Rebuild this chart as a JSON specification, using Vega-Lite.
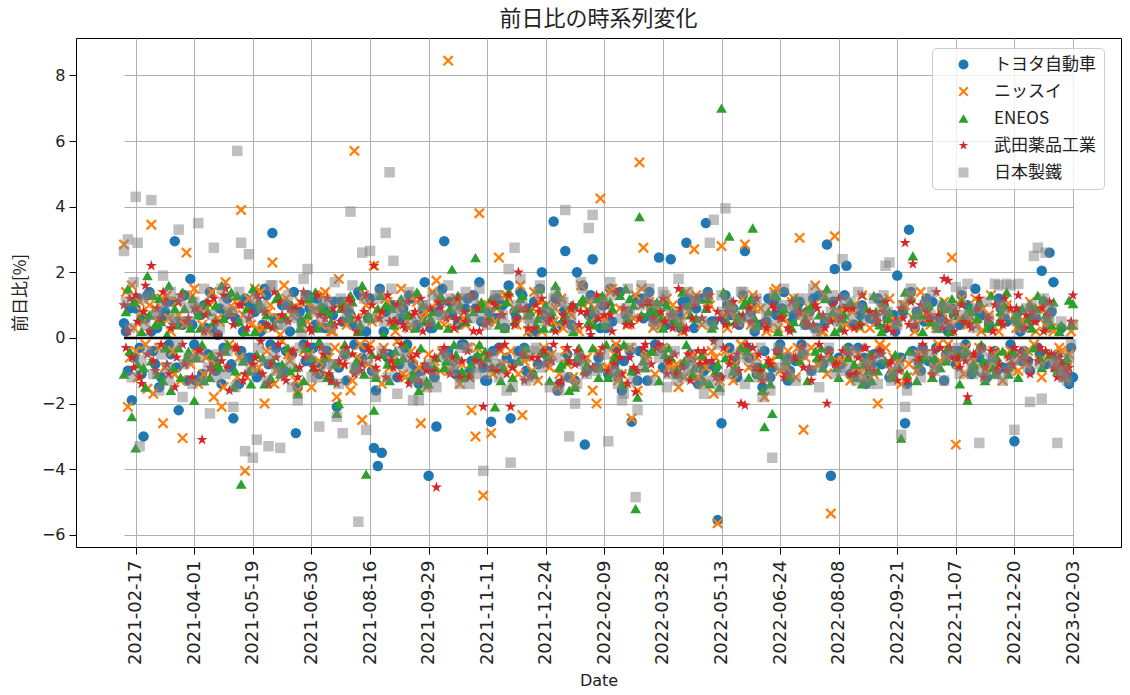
{
  "$schema": "https://vega.github.io/schema/vega-lite/v6.json",
  "description": "前日比の時系列変化 (5銘柄の日次変化率の散布図)",
  "width": 1045,
  "height": 509,
  "autosize": {"type": "none"},
  "padding": {"left": 76, "top": 38, "right": 9, "bottom": 148},
  "background": "white",
  "title": {
    "text": "前日比の時系列変化",
    "font": "Noto Sans CJK JP",
    "fontSize": 22,
    "fontWeight": "normal",
    "color": "#222",
    "anchor": "middle",
    "offset": 7
  },
  "config": {
    "font": "Noto Sans CJK JP",
    "view": {"stroke": "#000", "strokeWidth": 1},
    "axis": {
      "domain": false,
      "grid": true,
      "gridColor": "#b0b0b0",
      "gridWidth": 1,
      "tickColor": "#000",
      "tickSize": 7,
      "labelFont": "DejaVu Sans",
      "labelFontSize": 16,
      "labelColor": "#222",
      "labelPadding": 4,
      "titleFont": "Noto Sans CJK JP",
      "titleFontSize": 17,
      "titleFontWeight": "normal",
      "titleColor": "#222"
    }
  },
  "data": {
    "values": [
      {"date":"2021-02-08","toyota":0.45,"nissui":2.85,"eneos":-1.1,"takeda":1.0,"nsteel":2.65},
      {"date":"2021-02-09","toyota":0.2,"nissui":1.4,"eneos":0.8,"takeda":-0.3,"nsteel":1.1},
      {"date":"2021-02-10","toyota":-1.0,"nissui":-2.1,"eneos":1.5,"takeda":0.2,"nsteel":3.0},
      {"date":"2021-02-12","toyota":0.9,"nissui":-0.6,"eneos":-0.4,"takeda":1.2,"nsteel":0.3},
      {"date":"2021-02-15","toyota":-1.9,"nissui":1.6,"eneos":-2.4,"takeda":-0.6,"nsteel":-1.2},
      {"date":"2021-02-16","toyota":-0.6,"nissui":0.3,"eneos":1.1,"takeda":-0.9,"nsteel":1.7},
      {"date":"2021-02-17","toyota":0.9,"nissui":-0.4,"eneos":-3.35,"takeda":1.3,"nsteel":4.3},
      {"date":"2021-02-18","toyota":1.2,"nissui":-1.2,"eneos":-0.8,"takeda":0.5,"nsteel":2.9},
      {"date":"2021-02-19","toyota":-0.3,"nissui":1.1,"eneos":0.6,"takeda":-1.2,"nsteel":-3.3},
      {"date":"2021-02-22","toyota":-1.1,"nissui":0.8,"eneos":0.2,"takeda":-1.4,"nsteel":-0.7},
      {"date":"2021-02-24","toyota":-3.0,"nissui":0.5,"eneos":-0.9,"takeda":0.8,"nsteel":1.2},
      {"date":"2021-02-25","toyota":0.6,"nissui":-0.2,"eneos":-1.5,"takeda":1.6,"nsteel":0.4},
      {"date":"2021-02-26","toyota":1.3,"nissui":-1.55,"eneos":1.9,"takeda":-0.5,"nsteel":-0.4},
      {"date":"2021-03-01","toyota":1.4,"nissui":1.0,"eneos":0.7,"takeda":0.2,"nsteel":1.3},
      {"date":"2021-03-02","toyota":0.2,"nissui":3.45,"eneos":-0.7,"takeda":2.2,"nsteel":4.2},
      {"date":"2021-03-03","toyota":-0.4,"nissui":-1.7,"eneos":1.3,"takeda":-0.7,"nsteel":-1.1},
      {"date":"2021-03-04","toyota":-0.8,"nissui":0.9,"eneos":0.4,"takeda":-1.0,"nsteel":0.7},
      {"date":"2021-03-05","toyota":0.3,"nissui":0.5,"eneos":-1.1,"takeda":0.9,"nsteel":0.8},
      {"date":"2021-03-08","toyota":-1.5,"nissui":-0.3,"eneos":1.2,"takeda":0.6,"nsteel":-1.6},
      {"date":"2021-03-09","toyota":-1.2,"nissui":1.2,"eneos":0.5,"takeda":-0.2,"nsteel":-0.5},
      {"date":"2021-03-10","toyota":0.6,"nissui":-2.6,"eneos":-1.3,"takeda":1.4,"nsteel":1.9},
      {"date":"2021-03-11","toyota":0.8,"nissui":-0.9,"eneos":-0.3,"takeda":1.1,"nsteel":1.0},
      {"date":"2021-03-12","toyota":1.1,"nissui":1.3,"eneos":0.1,"takeda":-0.8,"nsteel":-0.9},
      {"date":"2021-03-15","toyota":-0.2,"nissui":0.6,"eneos":1.6,"takeda":-1.1,"nsteel":-1.3},
      {"date":"2021-03-16","toyota":-0.5,"nissui":0.2,"eneos":-1.6,"takeda":0.3,"nsteel":1.4},
      {"date":"2021-03-17","toyota":1.1,"nissui":-0.4,"eneos":-0.9,"takeda":0.4,"nsteel":0.6},
      {"date":"2021-03-18","toyota":2.95,"nissui":-1.1,"eneos":0.9,"takeda":-1.5,"nsteel":0.5},
      {"date":"2021-03-19","toyota":-0.9,"nissui":1.1,"eneos":0.4,"takeda":-0.6,"nsteel":-0.2},
      {"date":"2021-03-23","toyota":-2.2,"nissui":0.7,"eneos":-0.3,"takeda":1.1,"nsteel":3.3},
      {"date":"2021-03-24","toyota":0.5,"nissui":-1.3,"eneos":-1.2,"takeda":1.3,"nsteel":1.2},
      {"date":"2021-03-25","toyota":0.4,"nissui":-3.05,"eneos":1.4,"takeda":-0.2,"nsteel":-1.8},
      {"date":"2021-03-26","toyota":1.3,"nissui":0.4,"eneos":0.9,"takeda":-0.8,"nsteel":-0.8},
      {"date":"2021-03-27","toyota":-1.3,"nissui":2.6,"eneos":-0.6,"takeda":0.5,"nsteel":0.9},
      {"date":"2021-03-29","toyota":-0.7,"nissui":-0.7,"eneos":-0.4,"takeda":0.6,"nsteel":0.5},
      {"date":"2021-03-30","toyota":1.8,"nissui":-0.8,"eneos":0.3,"takeda":-1.3,"nsteel":-0.6},
      {"date":"2021-03-31","toyota":0.4,"nissui":1.3,"eneos":1.2,"takeda":-1.2,"nsteel":-1.4},
      {"date":"2021-04-01","toyota":-0.2,"nissui":1.5,"eneos":-1.9,"takeda":0.9,"nsteel":1.1},
      {"date":"2021-04-02","toyota":-1.3,"nissui":-0.5,"eneos":-0.6,"takeda":0.9,"nsteel":0.9},
      {"date":"2021-04-05","toyota":0.8,"nissui":-1.4,"eneos":0.7,"takeda":-0.4,"nsteel":3.5},
      {"date":"2021-04-06","toyota":0.7,"nissui":0.9,"eneos":0.3,"takeda":-0.4,"nsteel":-0.6},
      {"date":"2021-04-07","toyota":-1.1,"nissui":0.4,"eneos":-0.2,"takeda":-3.1,"nsteel":-1.3},
      {"date":"2021-04-08","toyota":1.0,"nissui":-1.1,"eneos":-1.3,"takeda":0.2,"nsteel":1.5},
      {"date":"2021-04-09","toyota":0.3,"nissui":-0.6,"eneos":1.1,"takeda":0.7,"nsteel":0.2},
      {"date":"2021-04-12","toyota":-0.5,"nissui":0.2,"eneos":0.8,"takeda":1.1,"nsteel":-0.9},
      {"date":"2021-04-13","toyota":1.4,"nissui":1.0,"eneos":-1.2,"takeda":-0.9,"nsteel":-2.3},
      {"date":"2021-04-14","toyota":0.3,"nissui":1.4,"eneos":-0.5,"takeda":-1.0,"nsteel":0.7},
      {"date":"2021-04-15","toyota":-0.7,"nissui":-1.8,"eneos":0.5,"takeda":1.2,"nsteel":2.75},
      {"date":"2021-04-16","toyota":-1.0,"nissui":-0.8,"eneos":1.0,"takeda":0.5,"nsteel":-1.2},
      {"date":"2021-04-19","toyota":0.1,"nissui":0.6,"eneos":-0.8,"takeda":0.1,"nsteel":-0.5},
      {"date":"2021-04-20","toyota":0.9,"nissui":0.5,"eneos":-0.9,"takeda":-0.5,"nsteel":0.3},
      {"date":"2021-04-21","toyota":-1.4,"nissui":-2.1,"eneos":1.6,"takeda":-0.7,"nsteel":1.5},
      {"date":"2021-04-22","toyota":-0.3,"nissui":-1.5,"eneos":0.6,"takeda":1.3,"nsteel":1.1},
      {"date":"2021-04-23","toyota":0.7,"nissui":1.7,"eneos":-0.4,"takeda":1.5,"nsteel":-1.1},
      {"date":"2021-04-26","toyota":1.2,"nissui":0.8,"eneos":-0.2,"takeda":-0.9,"nsteel":-0.4},
      {"date":"2021-04-27","toyota":-0.9,"nissui":-0.2,"eneos":0.8,"takeda":-1.6,"nsteel":0.8},
      {"date":"2021-04-28","toyota":-0.8,"nissui":-0.3,"eneos":1.4,"takeda":0.7,"nsteel":0.8},
      {"date":"2021-04-30","toyota":-2.45,"nissui":0.9,"eneos":-1.5,"takeda":0.4,"nsteel":-2.1},
      {"date":"2021-05-03","toyota":0.6,"nissui":1.1,"eneos":-1.0,"takeda":-0.3,"nsteel":-1.5},
      {"date":"2021-05-06","toyota":0.5,"nissui":-1.2,"eneos":1.3,"takeda":-0.3,"nsteel":5.7},
      {"date":"2021-05-07","toyota":-1.4,"nissui":-0.6,"eneos":0.5,"takeda":1.0,"nsteel":1.4},
      {"date":"2021-05-10","toyota":-0.4,"nissui":3.9,"eneos":-4.45,"takeda":1.0,"nsteel":2.9},
      {"date":"2021-05-11","toyota":0.2,"nissui":0.7,"eneos":-0.7,"takeda":-1.3,"nsteel":-0.7},
      {"date":"2021-05-12","toyota":1.2,"nissui":-4.05,"eneos":0.2,"takeda":-1.1,"nsteel":-3.45},
      {"date":"2021-05-14","toyota":1.1,"nissui":-1.2,"eneos":0.9,"takeda":0.3,"nsteel":0.6},
      {"date":"2021-05-17","toyota":-0.6,"nissui":1.2,"eneos":-1.0,"takeda":0.6,"nsteel":2.55},
      {"date":"2021-05-18","toyota":-0.6,"nissui":0.4,"eneos":-1.4,"takeda":0.8,"nsteel":-1.0},
      {"date":"2021-05-19","toyota":0.9,"nissui":-0.9,"eneos":1.5,"takeda":-0.8,"nsteel":-3.65},
      {"date":"2021-05-20","toyota":0.8,"nissui":1.5,"eneos":0.2,"takeda":-0.6,"nsteel":1.2},
      {"date":"2021-05-21","toyota":-1.2,"nissui":0.3,"eneos":-0.5,"takeda":1.3,"nsteel":-3.1},
      {"date":"2021-05-24","toyota":-1.1,"nissui":-0.9,"eneos":1.1,"takeda":1.2,"nsteel":-0.3},
      {"date":"2021-05-25","toyota":0.2,"nissui":1.4,"eneos":0.9,"takeda":-0.1,"nsteel":1.0},
      {"date":"2021-05-26","toyota":0.4,"nissui":0.3,"eneos":-0.6,"takeda":-1.1,"nsteel":0.9},
      {"date":"2021-05-27","toyota":1.5,"nissui":-2.0,"eneos":-1.4,"takeda":0.8,"nsteel":-0.7},
      {"date":"2021-05-28","toyota":1.3,"nissui":-0.4,"eneos":0.7,"takeda":0.4,"nsteel":-1.3},
      {"date":"2021-05-31","toyota":-0.8,"nissui":0.8,"eneos":0.4,"takeda":-1.4,"nsteel":-3.3},
      {"date":"2021-06-01","toyota":-0.2,"nissui":1.0,"eneos":-1.2,"takeda":-0.8,"nsteel":1.6},
      {"date":"2021-06-02","toyota":3.2,"nissui":2.3,"eneos":-0.7,"takeda":0.3,"nsteel":1.6},
      {"date":"2021-06-03","toyota":0.6,"nissui":-1.4,"eneos":0.4,"takeda":1.4,"nsteel":-0.5},
      {"date":"2021-06-04","toyota":-0.3,"nissui":-1.0,"eneos":1.2,"takeda":-0.6,"nsteel":-1.0},
      {"date":"2021-06-07","toyota":-0.9,"nissui":0.6,"eneos":1.3,"takeda":-0.2,"nsteel":0.4},
      {"date":"2021-06-08","toyota":0.6,"nissui":0.1,"eneos":-1.1,"takeda":1.1,"nsteel":-3.35},
      {"date":"2021-06-09","toyota":1.0,"nissui":-0.1,"eneos":-0.8,"takeda":0.7,"nsteel":-1.1},
      {"date":"2021-06-10","toyota":-1.0,"nissui":1.6,"eneos":0.6,"takeda":-1.2,"nsteel":0.4},
      {"date":"2021-06-11","toyota":-0.4,"nissui":1.2,"eneos":0.6,"takeda":-1.3,"nsteel":1.0},
      {"date":"2021-06-14","toyota":1.0,"nissui":-0.5,"eneos":-0.3,"takeda":0.5,"nsteel":1.3},
      {"date":"2021-06-15","toyota":0.2,"nissui":-0.7,"eneos":-1.0,"takeda":0.9,"nsteel":-0.8},
      {"date":"2021-06-16","toyota":-0.5,"nissui":0.7,"eneos":1.0,"takeda":-0.4,"nsteel":-1.5},
      {"date":"2021-06-17","toyota":1.4,"nissui":0.9,"eneos":0.9,"takeda":-0.4,"nsteel":0.7},
      {"date":"2021-06-18","toyota":-2.9,"nissui":-1.3,"eneos":-0.9,"takeda":0.9,"nsteel":0.6},
      {"date":"2021-06-21","toyota":-1.5,"nissui":-1.6,"eneos":-1.7,"takeda":-1.2,"nsteel":-1.9},
      {"date":"2021-06-22","toyota":0.8,"nissui":1.1,"eneos":0.3,"takeda":-0.9,"nsteel":-0.3},
      {"date":"2021-06-23","toyota":0.5,"nissui":0.3,"eneos":0.5,"takeda":1.1,"nsteel":0.2},
      {"date":"2021-06-24","toyota":-0.2,"nissui":-0.4,"eneos":-1.3,"takeda":1.4,"nsteel":1.8},
      {"date":"2021-06-25","toyota":-0.7,"nissui":1.1,"eneos":-0.3,"takeda":-0.6,"nsteel":1.3},
      {"date":"2021-06-28","toyota":1.3,"nissui":0.5,"eneos":0.7,"takeda":-0.2,"nsteel":2.1},
      {"date":"2021-06-29","toyota":0.9,"nissui":-0.5,"eneos":1.2,"takeda":0.3,"nsteel":-0.6},
      {"date":"2021-06-30","toyota":-0.7,"nissui":-1.5,"eneos":-0.6,"takeda":0.2,"nsteel":-1.2},
      {"date":"2021-07-01","toyota":-0.3,"nissui":0.8,"eneos":-0.9,"takeda":-0.9,"nsteel":0.8},
      {"date":"2021-07-02","toyota":0.4,"nissui":0.9,"eneos":1.4,"takeda":-1.0,"nsteel":0.9},
      {"date":"2021-07-05","toyota":1.2,"nissui":-1.0,"eneos":0.3,"takeda":1.3,"nsteel":-1.2},
      {"date":"2021-07-06","toyota":-1.1,"nissui":-0.7,"eneos":-0.1,"takeda":0.7,"nsteel":-2.7},
      {"date":"2021-07-07","toyota":-0.8,"nissui":0.4,"eneos":1.0,"takeda":-0.3,"nsteel":0.5},
      {"date":"2021-07-08","toyota":0.9,"nissui":1.3,"eneos":0.8,"takeda":-0.5,"nsteel":1.1},
      {"date":"2021-07-09","toyota":0.3,"nissui":1.4,"eneos":-0.6,"takeda":0.6,"nsteel":-0.3},
      {"date":"2021-07-12","toyota":-0.4,"nissui":-1.1,"eneos":-1.2,"takeda":1.2,"nsteel":-0.8},
      {"date":"2021-07-13","toyota":-1.2,"nissui":-0.6,"eneos":0.8,"takeda":-1.1,"nsteel":1.1},
      {"date":"2021-07-14","toyota":0.3,"nissui":0.2,"eneos":0.5,"takeda":-1.3,"nsteel":0.3},
      {"date":"2021-07-15","toyota":0.7,"nissui":0.2,"eneos":-1.3,"takeda":0.9,"nsteel":-0.8},
      {"date":"2021-07-16","toyota":1.1,"nissui":-0.3,"eneos":-0.8,"takeda":0.4,"nsteel":1.7},
      {"date":"2021-07-19","toyota":-2.1,"nissui":-1.8,"eneos":-2.3,"takeda":-1.4,"nsteel":-2.4},
      {"date":"2021-07-20","toyota":-0.9,"nissui":1.8,"eneos":-2.0,"takeda":-0.7,"nsteel":-1.4},
      {"date":"2021-07-21","toyota":1.1,"nissui":0.9,"eneos":0.9,"takeda":0.5,"nsteel":1.2},
      {"date":"2021-07-26","toyota":0.5,"nissui":-0.8,"eneos":1.1,"takeda":0.9,"nsteel":-2.9},
      {"date":"2021-07-27","toyota":-0.5,"nissui":-0.4,"eneos":-0.2,"takeda":-0.8,"nsteel":-0.5},
      {"date":"2021-07-28","toyota":-1.3,"nissui":0.4,"eneos":-0.4,"takeda":-0.3,"nsteel":0.6},
      {"date":"2021-07-29","toyota":0.8,"nissui":1.0,"eneos":0.6,"takeda":1.2,"nsteel":0.9},
      {"date":"2021-07-30","toyota":0.7,"nissui":-1.6,"eneos":1.3,"takeda":1.1,"nsteel":3.85},
      {"date":"2021-08-02","toyota":0.4,"nissui":-1.3,"eneos":1.1,"takeda":-0.5,"nsteel":1.6},
      {"date":"2021-08-03","toyota":-0.2,"nissui":5.7,"eneos":-0.9,"takeda":-1.1,"nsteel":-0.9},
      {"date":"2021-08-04","toyota":-0.9,"nissui":0.6,"eneos":-0.7,"takeda":0.2,"nsteel":-1.0},
      {"date":"2021-08-05","toyota":1.4,"nissui":-0.6,"eneos":0.2,"takeda":0.6,"nsteel":-5.6},
      {"date":"2021-08-06","toyota":1.3,"nissui":-0.2,"eneos":0.4,"takeda":-1.0,"nsteel":0.4},
      {"date":"2021-08-10","toyota":-0.6,"nissui":-2.5,"eneos":1.6,"takeda":-0.8,"nsteel":2.6},
      {"date":"2021-08-11","toyota":-0.3,"nissui":1.3,"eneos":-1.1,"takeda":0.8,"nsteel":1.2},
      {"date":"2021-08-12","toyota":0.2,"nissui":1.0,"eneos":-4.15,"takeda":1.3,"nsteel":-2.8},
      {"date":"2021-08-13","toyota":0.6,"nissui":-0.8,"eneos":0.7,"takeda":-0.3,"nsteel":-0.7},
      {"date":"2021-08-16","toyota":1.2,"nissui":-0.2,"eneos":0.6,"takeda":-0.4,"nsteel":2.65},
      {"date":"2021-08-17","toyota":-1.0,"nissui":0.5,"eneos":-0.5,"takeda":1.0,"nsteel":0.6},
      {"date":"2021-08-18","toyota":-3.35,"nissui":2.2,"eneos":-2.2,"takeda":2.2,"nsteel":-1.1},
      {"date":"2021-08-19","toyota":-1.6,"nissui":-1.1,"eneos":-1.2,"takeda":-0.9,"nsteel":-1.8},
      {"date":"2021-08-20","toyota":-3.9,"nissui":0.6,"eneos":0.9,"takeda":-0.6,"nsteel":1.2},
      {"date":"2021-08-23","toyota":1.5,"nissui":0.8,"eneos":1.3,"takeda":0.6,"nsteel":1.4},
      {"date":"2021-08-24","toyota":-3.5,"nissui":-1.4,"eneos":-0.5,"takeda":0.8,"nsteel":-0.4},
      {"date":"2021-08-25","toyota":0.2,"nissui":-0.3,"eneos":0.1,"takeda":-0.4,"nsteel":0.5},
      {"date":"2021-08-26","toyota":0.8,"nissui":1.2,"eneos":1.0,"takeda":-1.2,"nsteel":3.2},
      {"date":"2021-08-27","toyota":-0.6,"nissui":1.1,"eneos":-0.8,"takeda":1.3,"nsteel":-1.2},
      {"date":"2021-08-30","toyota":-0.5,"nissui":-0.9,"eneos":-1.3,"takeda":0.5,"nsteel":5.05},
      {"date":"2021-08-31","toyota":1.0,"nissui":-0.7,"eneos":0.9,"takeda":-0.7,"nsteel":1.5},
      {"date":"2021-09-01","toyota":1.0,"nissui":0.5,"eneos":0.4,"takeda":-0.9,"nsteel":2.35},
      {"date":"2021-09-02","toyota":0.5,"nissui":0.2,"eneos":-0.4,"takeda":0.5,"nsteel":0.8},
      {"date":"2021-09-03","toyota":-1.2,"nissui":-0.1,"eneos":-0.7,"takeda":1.0,"nsteel":-1.7},
      {"date":"2021-09-06","toyota":-0.8,"nissui":1.0,"eneos":1.1,"takeda":-1.2,"nsteel":-0.4},
      {"date":"2021-09-07","toyota":0.6,"nissui":1.5,"eneos":1.2,"takeda":-0.2,"nsteel":0.8},
      {"date":"2021-09-08","toyota":0.9,"nissui":-1.1,"eneos":-0.6,"takeda":0.4,"nsteel":1.1},
      {"date":"2021-09-09","toyota":-0.3,"nissui":-1.2,"eneos":-0.2,"takeda":0.3,"nsteel":-0.6},
      {"date":"2021-09-10","toyota":-0.2,"nissui":0.5,"eneos":0.7,"takeda":1.1,"nsteel":-0.9},
      {"date":"2021-09-13","toyota":1.3,"nissui":0.3,"eneos":0.7,"takeda":-1.4,"nsteel":1.4},
      {"date":"2021-09-14","toyota":1.2,"nissui":-0.4,"eneos":-1.2,"takeda":-0.6,"nsteel":0.4},
      {"date":"2021-09-15","toyota":-0.8,"nissui":-0.6,"eneos":-1.1,"takeda":0.7,"nsteel":-1.9},
      {"date":"2021-09-16","toyota":-1.1,"nissui":1.3,"eneos":0.3,"takeda":0.8,"nsteel":-1.3},
      {"date":"2021-09-17","toyota":0.4,"nissui":1.1,"eneos":1.4,"takeda":-0.5,"nsteel":0.5},
      {"date":"2021-09-21","toyota":-1.4,"nissui":-0.9,"eneos":-1.6,"takeda":-1.3,"nsteel":-1.9},
      {"date":"2021-09-22","toyota":-1.0,"nissui":-2.6,"eneos":-0.3,"takeda":1.2,"nsteel":-1.2},
      {"date":"2021-09-24","toyota":0.7,"nissui":0.6,"eneos":1.0,"takeda":0.2,"nsteel":1.0},
      {"date":"2021-09-27","toyota":1.7,"nissui":0.8,"eneos":0.5,"takeda":-0.8,"nsteel":1.0},
      {"date":"2021-09-28","toyota":-0.9,"nissui":-1.5,"eneos":-1.3,"takeda":-1.0,"nsteel":-1.5},
      {"date":"2021-09-29","toyota":-4.2,"nissui":-0.5,"eneos":-1.4,"takeda":0.4,"nsteel":-0.8},
      {"date":"2021-09-30","toyota":0.3,"nissui":0.9,"eneos":0.6,"takeda":0.9,"nsteel":0.5},
      {"date":"2021-10-01","toyota":0.3,"nissui":1.4,"eneos":0.8,"takeda":-1.0,"nsteel":1.3},
      {"date":"2021-10-04","toyota":-1.2,"nissui":-0.7,"eneos":-0.9,"takeda":-0.6,"nsteel":-1.2},
      {"date":"2021-10-05","toyota":-2.7,"nissui":1.75,"eneos":-0.6,"takeda":-4.55,"nsteel":-1.5},
      {"date":"2021-10-06","toyota":0.8,"nissui":1.2,"eneos":0.4,"takeda":1.1,"nsteel":1.3},
      {"date":"2021-10-07","toyota":1.1,"nissui":-1.0,"eneos":1.3,"takeda":0.9,"nsteel":0.7},
      {"date":"2021-10-08","toyota":1.5,"nissui":-0.4,"eneos":1.2,"takeda":-0.4,"nsteel":0.7},
      {"date":"2021-10-11","toyota":2.95,"nissui":0.4,"eneos":-0.9,"takeda":-0.3,"nsteel":-0.5},
      {"date":"2021-10-12","toyota":-0.5,"nissui":0.7,"eneos":-0.7,"takeda":0.6,"nsteel":-0.6},
      {"date":"2021-10-13","toyota":-0.4,"nissui":8.45,"eneos":0.3,"takeda":1.1,"nsteel":1.6},
      {"date":"2021-10-14","toyota":1.1,"nissui":-1.0,"eneos":0.9,"takeda":-1.1,"nsteel":1.2},
      {"date":"2021-10-15","toyota":0.7,"nissui":-0.7,"eneos":2.1,"takeda":-0.6,"nsteel":-1.0},
      {"date":"2021-10-18","toyota":-0.7,"nissui":0.3,"eneos":-0.2,"takeda":0.3,"nsteel":-0.8},
      {"date":"2021-10-19","toyota":-1.1,"nissui":1.2,"eneos":-0.5,"takeda":0.6,"nsteel":0.9},
      {"date":"2021-10-20","toyota":0.4,"nissui":1.1,"eneos":1.3,"takeda":1.2,"nsteel":0.9},
      {"date":"2021-10-21","toyota":0.5,"nissui":-1.4,"eneos":1.0,"takeda":-1.2,"nsteel":-1.4},
      {"date":"2021-10-22","toyota":-0.2,"nissui":-0.8,"eneos":-1.0,"takeda":-0.7,"nsteel":-0.3},
      {"date":"2021-10-25","toyota":-0.2,"nissui":0.6,"eneos":-1.2,"takeda":0.8,"nsteel":1.2},
      {"date":"2021-10-26","toyota":0.9,"nissui":0.4,"eneos":0.5,"takeda":0.5,"nsteel":1.4},
      {"date":"2021-10-27","toyota":1.2,"nissui":-0.3,"eneos":0.6,"takeda":-0.4,"nsteel":-0.3},
      {"date":"2021-10-28","toyota":-1.0,"nissui":-1.2,"eneos":-1.1,"takeda":-1.2,"nsteel":-1.4},
      {"date":"2021-10-29","toyota":-0.7,"nissui":-2.2,"eneos":-0.8,"takeda":1.3,"nsteel":0.6},
      {"date":"2021-11-01","toyota":1.3,"nissui":0.8,"eneos":0.8,"takeda":0.2,"nsteel":1.2},
      {"date":"2021-11-02","toyota":0.9,"nissui":-3.0,"eneos":2.45,"takeda":-0.7,"nsteel":-1.1},
      {"date":"2021-11-04","toyota":-0.6,"nissui":-0.3,"eneos":-0.5,"takeda":0.9,"nsteel":-0.9},
      {"date":"2021-11-05","toyota":1.7,"nissui":3.8,"eneos":-0.2,"takeda":0.2,"nsteel":1.5},
      {"date":"2021-11-08","toyota":0.5,"nissui":1.0,"eneos":1.1,"takeda":-0.8,"nsteel":0.6},
      {"date":"2021-11-09","toyota":-0.9,"nissui":-4.8,"eneos":0.9,"takeda":-2.1,"nsteel":-4.05},
      {"date":"2021-11-10","toyota":-1.3,"nissui":-0.6,"eneos":-0.4,"takeda":0.4,"nsteel":-1.1},
      {"date":"2021-11-11","toyota":-1.3,"nissui":1.0,"eneos":-0.6,"takeda":0.5,"nsteel":0.4},
      {"date":"2021-11-12","toyota":0.8,"nissui":0.5,"eneos":0.6,"takeda":-0.5,"nsteel":0.8},
      {"date":"2021-11-15","toyota":-2.55,"nissui":-2.9,"eneos":1.2,"takeda":-0.9,"nsteel":-0.8},
      {"date":"2021-11-16","toyota":-0.4,"nissui":-1.1,"eneos":-0.9,"takeda":1.1,"nsteel":-0.5},
      {"date":"2021-11-17","toyota":0.6,"nissui":0.5,"eneos":-2.1,"takeda":1.0,"nsteel":1.3},
      {"date":"2021-11-18","toyota":1.2,"nissui":0.9,"eneos":1.0,"takeda":-1.0,"nsteel":1.3},
      {"date":"2021-11-19","toyota":-0.3,"nissui":2.45,"eneos":0.4,"takeda":-0.3,"nsteel":-1.2},
      {"date":"2021-11-22","toyota":-0.9,"nissui":-0.4,"eneos":-1.3,"takeda":0.7,"nsteel":-0.8},
      {"date":"2021-11-24","toyota":1.0,"nissui":-0.8,"eneos":-0.9,"takeda":0.7,"nsteel":0.7},
      {"date":"2021-11-25","toyota":0.3,"nissui":1.3,"eneos":0.3,"takeda":-0.2,"nsteel":0.4},
      {"date":"2021-11-26","toyota":-0.6,"nissui":1.3,"eneos":1.1,"takeda":-1.1,"nsteel":-1.6},
      {"date":"2021-11-29","toyota":1.6,"nissui":1.2,"eneos":1.4,"takeda":1.3,"nsteel":2.1},
      {"date":"2021-11-30","toyota":-2.45,"nissui":-0.4,"eneos":-1.5,"takeda":-2.1,"nsteel":-3.8},
      {"date":"2021-12-01","toyota":-0.8,"nissui":-0.9,"eneos":-1.2,"takeda":-0.9,"nsteel":-1.5},
      {"date":"2021-12-02","toyota":0.8,"nissui":0.9,"eneos":0.5,"takeda":0.4,"nsteel":2.75},
      {"date":"2021-12-03","toyota":0.6,"nissui":0.4,"eneos":0.9,"takeda":0.6,"nsteel":1.0},
      {"date":"2021-12-06","toyota":-0.4,"nissui":-1.1,"eneos":-0.7,"takeda":2.0,"nsteel":-0.7},
      {"date":"2021-12-07","toyota":1.4,"nissui":1.6,"eneos":1.2,"takeda":0.9,"nsteel":1.8},
      {"date":"2021-12-08","toyota":1.3,"nissui":-2.35,"eneos":1.3,"takeda":-0.5,"nsteel":1.0},
      {"date":"2021-12-09","toyota":-0.3,"nissui":-0.7,"eneos":-0.5,"takeda":-1.3,"nsteel":-0.4},
      {"date":"2021-12-10","toyota":-1.0,"nissui":0.7,"eneos":-0.3,"takeda":0.9,"nsteel":-1.3},
      {"date":"2021-12-13","toyota":0.9,"nissui":0.2,"eneos":0.7,"takeda":0.3,"nsteel":0.6},
      {"date":"2021-12-14","toyota":0.2,"nissui":-0.6,"eneos":0.8,"takeda":-1.2,"nsteel":0.5},
      {"date":"2021-12-15","toyota":-1.1,"nissui":-1.0,"eneos":-1.1,"takeda":-0.6,"nsteel":-1.2},
      {"date":"2021-12-16","toyota":1.1,"nissui":1.4,"eneos":-1.1,"takeda":0.3,"nsteel":-0.4},
      {"date":"2021-12-17","toyota":0.2,"nissui":0.8,"eneos":0.4,"takeda":1.0,"nsteel":-0.3},
      {"date":"2021-12-20","toyota":-0.8,"nissui":-1.3,"eneos":0.6,"takeda":-0.6,"nsteel":1.4},
      {"date":"2021-12-21","toyota":1.5,"nissui":1.1,"eneos":1.5,"takeda":0.8,"nsteel":1.6},
      {"date":"2021-12-22","toyota":2.0,"nissui":0.2,"eneos":-0.4,"takeda":1.2,"nsteel":-0.9},
      {"date":"2021-12-23","toyota":0.7,"nissui":-0.3,"eneos":0.3,"takeda":-0.4,"nsteel":0.5},
      {"date":"2021-12-24","toyota":-0.5,"nissui":1.0,"eneos":1.0,"takeda":-0.8,"nsteel":0.8},
      {"date":"2021-12-27","toyota":-0.4,"nissui":0.6,"eneos":-0.6,"takeda":0.5,"nsteel":-0.7},
      {"date":"2021-12-28","toyota":0.6,"nissui":-0.9,"eneos":-1.3,"takeda":0.6,"nsteel":-1.5},
      {"date":"2021-12-29","toyota":0.5,"nissui":-0.5,"eneos":0.8,"takeda":-0.7,"nsteel":0.9},
      {"date":"2021-12-30","toyota":3.55,"nissui":0.5,"eneos":0.3,"takeda":-0.2,"nsteel":1.2},
      {"date":"2022-01-04","toyota":1.2,"nissui":0.9,"eneos":1.6,"takeda":0.2,"nsteel":1.4},
      {"date":"2022-01-05","toyota":-1.6,"nissui":-1.5,"eneos":1.4,"takeda":1.1,"nsteel":-0.6},
      {"date":"2022-01-06","toyota":-1.4,"nissui":-1.1,"eneos":-0.9,"takeda":-1.4,"nsteel":-1.6},
      {"date":"2022-01-07","toyota":0.4,"nissui":1.2,"eneos":-0.8,"takeda":-1.3,"nsteel":1.1},
      {"date":"2022-01-11","toyota":0.8,"nissui":0.3,"eneos":0.6,"takeda":0.7,"nsteel":1.1},
      {"date":"2022-01-12","toyota":2.65,"nissui":-0.4,"eneos":0.7,"takeda":0.5,"nsteel":3.9},
      {"date":"2022-01-13","toyota":-0.5,"nissui":-0.8,"eneos":-0.7,"takeda":-0.3,"nsteel":-1.2},
      {"date":"2022-01-14","toyota":-1.2,"nissui":0.8,"eneos":-1.6,"takeda":-0.7,"nsteel":-3.0},
      {"date":"2022-01-17","toyota":0.4,"nissui":0.7,"eneos":1.0,"takeda":0.9,"nsteel":0.6},
      {"date":"2022-01-18","toyota":0.9,"nissui":-1.2,"eneos":0.2,"takeda":1.0,"nsteel":0.3},
      {"date":"2022-01-19","toyota":-1.3,"nissui":-1.4,"eneos":-1.5,"takeda":-0.8,"nsteel":-2.0},
      {"date":"2022-01-20","toyota":2.0,"nissui":0.3,"eneos":-0.6,"takeda":-0.4,"nsteel":-1.4},
      {"date":"2022-01-21","toyota":-0.7,"nissui":0.2,"eneos":-0.3,"takeda":0.4,"nsteel":-0.6},
      {"date":"2022-01-24","toyota":-0.6,"nissui":1.6,"eneos":1.1,"takeda":0.8,"nsteel":1.7},
      {"date":"2022-01-25","toyota":1.6,"nissui":1.0,"eneos":1.2,"takeda":-0.6,"nsteel":1.5},
      {"date":"2022-01-26","toyota":-3.25,"nissui":-0.7,"eneos":-1.0,"takeda":-1.1,"nsteel":-0.8},
      {"date":"2022-01-27","toyota":-1.0,"nissui":-0.6,"eneos":-0.8,"takeda":0.8,"nsteel":-1.1},
      {"date":"2022-01-28","toyota":0.7,"nissui":1.1,"eneos":0.5,"takeda":0.3,"nsteel":3.35},
      {"date":"2022-01-31","toyota":1.3,"nissui":0.5,"eneos":0.9,"takeda":0.1,"nsteel":1.2},
      {"date":"2022-02-01","toyota":2.4,"nissui":-1.6,"eneos":-0.3,"takeda":-0.9,"nsteel":3.75},
      {"date":"2022-02-02","toyota":0.6,"nissui":0.9,"eneos":0.4,"takeda":-0.9,"nsteel":0.8},
      {"date":"2022-02-03","toyota":-0.9,"nissui":-2.0,"eneos":1.2,"takeda":1.3,"nsteel":-1.0},
      {"date":"2022-02-04","toyota":-0.6,"nissui":-0.4,"eneos":-1.2,"takeda":0.6,"nsteel":-0.9},
      {"date":"2022-02-07","toyota":0.3,"nissui":4.25,"eneos":-0.9,"takeda":-0.5,"nsteel":0.9},
      {"date":"2022-02-08","toyota":1.0,"nissui":1.2,"eneos":1.3,"takeda":-0.3,"nsteel":1.1},
      {"date":"2022-02-09","toyota":1.0,"nissui":0.6,"eneos":0.4,"takeda":0.7,"nsteel":-0.5},
      {"date":"2022-02-10","toyota":0.3,"nissui":-0.9,"eneos":-0.2,"takeda":1.0,"nsteel":0.4},
      {"date":"2022-02-14","toyota":-1.1,"nissui":-0.9,"eneos":-1.2,"takeda":-1.0,"nsteel":-3.15},
      {"date":"2022-02-15","toyota":1.5,"nissui":1.4,"eneos":1.1,"takeda":0.7,"nsteel":1.7},
      {"date":"2022-02-16","toyota":0.5,"nissui":1.5,"eneos":0.9,"takeda":0.2,"nsteel":1.3},
      {"date":"2022-02-17","toyota":-0.8,"nissui":-0.5,"eneos":-0.6,"takeda":-0.8,"nsteel":-1.0},
      {"date":"2022-02-18","toyota":-0.3,"nissui":-0.2,"eneos":-0.5,"takeda":1.4,"nsteel":-1.1},
      {"date":"2022-02-21","toyota":-1.2,"nissui":-1.3,"eneos":-1.0,"takeda":-0.4,"nsteel":-1.4},
      {"date":"2022-02-22","toyota":1.4,"nissui":0.9,"eneos":1.3,"takeda":-0.6,"nsteel":0.6},
      {"date":"2022-02-24","toyota":-1.6,"nissui":-1.1,"eneos":-1.4,"takeda":-1.1,"nsteel":-1.9},
      {"date":"2022-02-25","toyota":-0.7,"nissui":-1.4,"eneos":-0.2,"takeda":0.9,"nsteel":-1.7},
      {"date":"2022-02-28","toyota":0.7,"nissui":0.8,"eneos":1.5,"takeda":0.4,"nsteel":0.9},
      {"date":"2022-03-01","toyota":0.8,"nissui":0.4,"eneos":0.6,"takeda":-1.4,"nsteel":1.5},
      {"date":"2022-03-02","toyota":-0.4,"nissui":-0.3,"eneos":1.2,"takeda":-0.6,"nsteel":0.7},
      {"date":"2022-03-03","toyota":-2.55,"nissui":-2.45,"eneos":-1.0,"takeda":0.4,"nsteel":-0.3},
      {"date":"2022-03-04","toyota":-1.0,"nissui":0.6,"eneos":1.0,"takeda":-0.9,"nsteel":-1.3},
      {"date":"2022-03-07","toyota":1.2,"nissui":1.3,"eneos":-5.2,"takeda":-1.65,"nsteel":-4.85},
      {"date":"2022-03-08","toyota":-1.3,"nissui":-1.6,"eneos":-1.8,"takeda":-1.0,"nsteel":-2.2},
      {"date":"2022-03-09","toyota":-0.4,"nissui":5.35,"eneos":3.7,"takeda":0.6,"nsteel":1.0},
      {"date":"2022-03-10","toyota":1.2,"nissui":1.5,"eneos":0.7,"takeda":1.0,"nsteel":1.6},
      {"date":"2022-03-11","toyota":0.6,"nissui":2.75,"eneos":-0.7,"takeda":-0.3,"nsteel":-0.9},
      {"date":"2022-03-14","toyota":-0.5,"nissui":-0.6,"eneos":-0.9,"takeda":-0.2,"nsteel":-0.7},
      {"date":"2022-03-15","toyota":-1.3,"nissui":-0.5,"eneos":1.1,"takeda":1.1,"nsteel":1.2},
      {"date":"2022-03-16","toyota":1.4,"nissui":1.1,"eneos":0.8,"takeda":1.1,"nsteel":1.5},
      {"date":"2022-03-17","toyota":0.9,"nissui":1.0,"eneos":-0.4,"takeda":-0.8,"nsteel":-1.3},
      {"date":"2022-03-18","toyota":0.6,"nissui":0.3,"eneos":-0.4,"takeda":0.6,"nsteel":0.5},
      {"date":"2022-03-22","toyota":-0.2,"nissui":-1.1,"eneos":0.8,"takeda":0.5,"nsteel":0.4},
      {"date":"2022-03-23","toyota":0.8,"nissui":0.9,"eneos":1.1,"takeda":-0.3,"nsteel":1.0},
      {"date":"2022-03-24","toyota":2.45,"nissui":0.5,"eneos":-1.3,"takeda":-0.2,"nsteel":-0.6},
      {"date":"2022-03-25","toyota":-0.3,"nissui":0.4,"eneos":0.6,"takeda":0.8,"nsteel":-0.4},
      {"date":"2022-03-28","toyota":-0.9,"nissui":-0.3,"eneos":0.3,"takeda":1.2,"nsteel":1.4},
      {"date":"2022-03-29","toyota":1.1,"nissui":0.6,"eneos":-0.5,"takeda":0.5,"nsteel":1.3},
      {"date":"2022-03-30","toyota":0.4,"nissui":1.2,"eneos":1.0,"takeda":-1.1,"nsteel":-1.5},
      {"date":"2022-03-31","toyota":-0.7,"nissui":-0.9,"eneos":-0.3,"takeda":-0.7,"nsteel":-1.1},
      {"date":"2022-04-01","toyota":2.4,"nissui":-0.8,"eneos":-0.6,"takeda":0.7,"nsteel":0.7},
      {"date":"2022-04-04","toyota":0.5,"nissui":1.0,"eneos":0.8,"takeda":0.3,"nsteel":0.7},
      {"date":"2022-04-05","toyota":-1.0,"nissui":0.7,"eneos":0.5,"takeda":-0.5,"nsteel":-0.4},
      {"date":"2022-04-06","toyota":-1.1,"nissui":-0.8,"eneos":-1.0,"takeda":-1.1,"nsteel":-1.3},
      {"date":"2022-04-07","toyota":0.7,"nissui":-1.5,"eneos":-1.1,"takeda":1.5,"nsteel":1.8},
      {"date":"2022-04-08","toyota":0.3,"nissui":0.5,"eneos":0.4,"takeda":0.9,"nsteel":0.5},
      {"date":"2022-04-11","toyota":1.1,"nissui":0.2,"eneos":1.4,"takeda":-0.9,"nsteel":-1.2},
      {"date":"2022-04-12","toyota":-0.8,"nissui":-1.2,"eneos":-0.7,"takeda":0.2,"nsteel":-1.0},
      {"date":"2022-04-13","toyota":2.9,"nissui":1.4,"eneos":-0.2,"takeda":0.3,"nsteel":0.9},
      {"date":"2022-04-14","toyota":1.2,"nissui":0.8,"eneos":1.0,"takeda":-0.5,"nsteel":1.4},
      {"date":"2022-04-15","toyota":-0.5,"nissui":-0.6,"eneos":0.7,"takeda":-1.3,"nsteel":-0.7},
      {"date":"2022-04-18","toyota":-0.6,"nissui":-0.5,"eneos":-1.1,"takeda":0.6,"nsteel":-0.9},
      {"date":"2022-04-19","toyota":0.3,"nissui":2.7,"eneos":-0.9,"takeda":1.0,"nsteel":1.1},
      {"date":"2022-04-20","toyota":0.9,"nissui":1.3,"eneos":0.6,"takeda":1.2,"nsteel":1.2},
      {"date":"2022-04-21","toyota":-1.4,"nissui":-1.2,"eneos":1.2,"takeda":-0.4,"nsteel":-1.0},
      {"date":"2022-04-22","toyota":-1.3,"nissui":-0.7,"eneos":-0.8,"takeda":-0.8,"nsteel":-1.4},
      {"date":"2022-04-25","toyota":1.2,"nissui":0.4,"eneos":-0.5,"takeda":0.6,"nsteel":0.5},
      {"date":"2022-04-26","toyota":-1.0,"nissui":-1.4,"eneos":-1.3,"takeda":-0.4,"nsteel":-1.7},
      {"date":"2022-04-27","toyota":3.5,"nissui":-0.9,"eneos":0.9,"takeda":-0.7,"nsteel":-1.3},
      {"date":"2022-04-28","toyota":1.4,"nissui":1.1,"eneos":1.2,"takeda":0.9,"nsteel":1.3},
      {"date":"2022-05-02","toyota":-0.8,"nissui":1.0,"eneos":-1.4,"takeda":1.3,"nsteel":2.9},
      {"date":"2022-05-06","toyota":0.5,"nissui":-0.4,"eneos":0.3,"takeda":-0.7,"nsteel":0.4},
      {"date":"2022-05-09","toyota":0.5,"nissui":-1.7,"eneos":0.4,"takeda":-0.1,"nsteel":3.6},
      {"date":"2022-05-10","toyota":-0.9,"nissui":-0.6,"eneos":-1.0,"takeda":-1.2,"nsteel":-1.3},
      {"date":"2022-05-11","toyota":-5.55,"nissui":-5.65,"eneos":-0.8,"takeda":0.8,"nsteel":-0.2},
      {"date":"2022-05-12","toyota":-1.2,"nissui":-1.3,"eneos":-1.5,"takeda":0.6,"nsteel":-1.6},
      {"date":"2022-05-13","toyota":-2.6,"nissui":2.8,"eneos":7.0,"takeda":-1.2,"nsteel":1.3},
      {"date":"2022-05-16","toyota":0.6,"nissui":0.7,"eneos":1.4,"takeda":-0.3,"nsteel":0.8},
      {"date":"2022-05-17","toyota":1.3,"nissui":-0.4,"eneos":-0.6,"takeda":0.4,"nsteel":3.95},
      {"date":"2022-05-18","toyota":1.0,"nissui":0.3,"eneos":0.5,"takeda":0.8,"nsteel":1.1},
      {"date":"2022-05-19","toyota":-0.3,"nissui":0.8,"eneos":3.1,"takeda":-0.8,"nsteel":-1.1},
      {"date":"2022-05-20","toyota":0.7,"nissui":1.0,"eneos":1.1,"takeda":-0.6,"nsteel":0.9},
      {"date":"2022-05-23","toyota":0.9,"nissui":-1.3,"eneos":-1.0,"takeda":1.1,"nsteel":0.8},
      {"date":"2022-05-24","toyota":-0.7,"nissui":-0.8,"eneos":-0.9,"takeda":0.4,"nsteel":-1.0},
      {"date":"2022-05-25","toyota":-1.2,"nissui":0.5,"eneos":0.6,"takeda":-0.5,"nsteel":-0.5},
      {"date":"2022-05-26","toyota":0.4,"nissui":0.6,"eneos":0.7,"takeda":-1.0,"nsteel":0.5},
      {"date":"2022-05-27","toyota":0.6,"nissui":-0.2,"eneos":-0.3,"takeda":-2.0,"nsteel":1.4},
      {"date":"2022-05-30","toyota":1.3,"nissui":1.2,"eneos":1.0,"takeda":0.7,"nsteel":1.4},
      {"date":"2022-05-31","toyota":2.65,"nissui":2.85,"eneos":1.1,"takeda":-2.05,"nsteel":-1.4},
      {"date":"2022-06-01","toyota":-0.3,"nissui":-0.5,"eneos":-0.4,"takeda":-0.2,"nsteel":-0.6},
      {"date":"2022-06-02","toyota":-0.6,"nissui":-0.9,"eneos":-1.2,"takeda":0.9,"nsteel":0.6},
      {"date":"2022-06-03","toyota":0.8,"nissui":0.4,"eneos":1.2,"takeda":0.5,"nsteel":0.7},
      {"date":"2022-06-06","toyota":1.0,"nissui":1.3,"eneos":3.35,"takeda":-0.3,"nsteel":-0.8},
      {"date":"2022-06-07","toyota":0.2,"nissui":0.9,"eneos":0.6,"takeda":-0.9,"nsteel":0.3},
      {"date":"2022-06-08","toyota":-1.1,"nissui":-0.6,"eneos":0.4,"takeda":1.2,"nsteel":1.2},
      {"date":"2022-06-09","toyota":-0.9,"nissui":-1.0,"eneos":-1.1,"takeda":-0.5,"nsteel":-1.2},
      {"date":"2022-06-10","toyota":0.4,"nissui":0.9,"eneos":-0.9,"takeda":-1.0,"nsteel":-0.3},
      {"date":"2022-06-13","toyota":-1.5,"nissui":-1.2,"eneos":-1.6,"takeda":-1.3,"nsteel":-1.8},
      {"date":"2022-06-14","toyota":-0.4,"nissui":-1.8,"eneos":-2.7,"takeda":0.5,"nsteel":0.9},
      {"date":"2022-06-15","toyota":0.5,"nissui":0.2,"eneos":-0.8,"takeda":0.3,"nsteel":0.6},
      {"date":"2022-06-16","toyota":1.2,"nissui":0.3,"eneos":0.8,"takeda":-0.7,"nsteel":-1.2},
      {"date":"2022-06-17","toyota":-1.2,"nissui":-0.7,"eneos":-1.4,"takeda":-0.8,"nsteel":-1.6},
      {"date":"2022-06-20","toyota":-0.9,"nissui":-0.7,"eneos":-2.3,"takeda":1.0,"nsteel":-3.65},
      {"date":"2022-06-21","toyota":1.1,"nissui":1.4,"eneos":1.3,"takeda":0.9,"nsteel":1.3},
      {"date":"2022-06-22","toyota":0.7,"nissui":1.5,"eneos":1.3,"takeda":-0.4,"nsteel":0.4},
      {"date":"2022-06-23","toyota":-0.4,"nissui":0.3,"eneos":0.2,"takeda":-0.4,"nsteel":-0.3},
      {"date":"2022-06-24","toyota":-0.2,"nissui":-1.0,"eneos":-0.5,"takeda":0.6,"nsteel":-0.9},
      {"date":"2022-06-27","toyota":0.9,"nissui":0.6,"eneos":0.8,"takeda":0.6,"nsteel":1.0},
      {"date":"2022-06-28","toyota":1.4,"nissui":0.6,"eneos":0.9,"takeda":-1.2,"nsteel":1.5},
      {"date":"2022-06-29","toyota":-0.6,"nissui":-0.9,"eneos":-0.7,"takeda":-1.1,"nsteel":-0.8},
      {"date":"2022-06-30","toyota":-1.3,"nissui":-0.4,"eneos":-1.1,"takeda":0.3,"nsteel":-0.6},
      {"date":"2022-07-01","toyota":-1.0,"nissui":0.4,"eneos":-1.2,"takeda":0.2,"nsteel":-1.1},
      {"date":"2022-07-04","toyota":0.5,"nissui":1.1,"eneos":0.3,"takeda":1.1,"nsteel":1.0},
      {"date":"2022-07-05","toyota":0.7,"nissui":1.2,"eneos":0.5,"takeda":-0.6,"nsteel":0.9},
      {"date":"2022-07-06","toyota":-0.7,"nissui":-1.2,"eneos":1.2,"takeda":-0.6,"nsteel":-1.3},
      {"date":"2022-07-07","toyota":1.0,"nissui":-0.3,"eneos":1.0,"takeda":0.8,"nsteel":1.2},
      {"date":"2022-07-08","toyota":1.1,"nissui":3.05,"eneos":-0.7,"takeda":0.8,"nsteel":0.7},
      {"date":"2022-07-11","toyota":-0.2,"nissui":0.7,"eneos":-0.4,"takeda":-0.3,"nsteel":-0.5},
      {"date":"2022-07-12","toyota":-0.5,"nissui":-2.8,"eneos":0.5,"takeda":-0.9,"nsteel":-0.4},
      {"date":"2022-07-13","toyota":0.4,"nissui":-0.6,"eneos":0.6,"takeda":0.5,"nsteel":0.4},
      {"date":"2022-07-14","toyota":0.8,"nissui":0.7,"eneos":-1.3,"takeda":0.4,"nsteel":1.2},
      {"date":"2022-07-15","toyota":0.8,"nissui":0.9,"eneos":0.9,"takeda":-0.9,"nsteel":0.7},
      {"date":"2022-07-19","toyota":-1.0,"nissui":-0.3,"eneos":1.0,"takeda":-1.3,"nsteel":-1.0},
      {"date":"2022-07-20","toyota":1.2,"nissui":1.0,"eneos":0.4,"takeda":0.4,"nsteel":1.5},
      {"date":"2022-07-21","toyota":0.3,"nissui":1.6,"eneos":-0.4,"takeda":1.0,"nsteel":0.3},
      {"date":"2022-07-22","toyota":0.3,"nissui":-0.8,"eneos":-0.6,"takeda":0.9,"nsteel":0.2},
      {"date":"2022-07-25","toyota":1.3,"nissui":-0.8,"eneos":0.7,"takeda":-0.2,"nsteel":-1.5},
      {"date":"2022-07-26","toyota":-0.7,"nissui":0.2,"eneos":-0.3,"takeda":-0.6,"nsteel":-0.9},
      {"date":"2022-07-27","toyota":-0.8,"nissui":0.2,"eneos":-0.9,"takeda":0.7,"nsteel":1.3},
      {"date":"2022-07-28","toyota":0.5,"nissui":1.3,"eneos":1.2,"takeda":0.3,"nsteel":0.6},
      {"date":"2022-07-29","toyota":2.85,"nissui":-1.1,"eneos":1.5,"takeda":-2.0,"nsteel":-0.7},
      {"date":"2022-08-01","toyota":-0.4,"nissui":-0.5,"eneos":0.6,"takeda":-0.4,"nsteel":-0.3},
      {"date":"2022-08-02","toyota":-4.2,"nissui":-5.35,"eneos":-0.6,"takeda":0.5,"nsteel":0.8},
      {"date":"2022-08-03","toyota":1.1,"nissui":0.6,"eneos":0.8,"takeda":1.0,"nsteel":1.3},
      {"date":"2022-08-04","toyota":2.1,"nissui":3.1,"eneos":0.2,"takeda":-0.8,"nsteel":-1.1},
      {"date":"2022-08-05","toyota":0.6,"nissui":-0.7,"eneos":-0.9,"takeda":-0.8,"nsteel":0.8},
      {"date":"2022-08-08","toyota":-0.6,"nissui":0.8,"eneos":-1.2,"takeda":1.2,"nsteel":0.5},
      {"date":"2022-08-09","toyota":-0.8,"nissui":0.5,"eneos":0.3,"takeda":0.6,"nsteel":-1.0},
      {"date":"2022-08-10","toyota":0.9,"nissui":-0.7,"eneos":0.6,"takeda":-0.4,"nsteel":2.4},
      {"date":"2022-08-12","toyota":1.3,"nissui":0.9,"eneos":0.7,"takeda":0.2,"nsteel":1.2},
      {"date":"2022-08-15","toyota":2.2,"nissui":0.4,"eneos":-0.3,"takeda":0.9,"nsteel":-0.9},
      {"date":"2022-08-16","toyota":-0.3,"nissui":-0.4,"eneos":-0.6,"takeda":-0.5,"nsteel":-0.4},
      {"date":"2022-08-17","toyota":-1.1,"nissui":-1.3,"eneos":1.1,"takeda":-1.1,"nsteel":1.1},
      {"date":"2022-08-18","toyota":0.4,"nissui":0.8,"eneos":1.0,"takeda":0.9,"nsteel":0.6},
      {"date":"2022-08-19","toyota":0.4,"nissui":1.0,"eneos":-0.8,"takeda":0.3,"nsteel":-0.4},
      {"date":"2022-08-22","toyota":-1.0,"nissui":-0.9,"eneos":-1.2,"takeda":-1.1,"nsteel":-1.3},
      {"date":"2022-08-23","toyota":-0.3,"nissui":-0.5,"eneos":0.4,"takeda":-0.6,"nsteel":1.4},
      {"date":"2022-08-24","toyota":0.7,"nissui":0.3,"eneos":0.5,"takeda":0.4,"nsteel":0.9},
      {"date":"2022-08-25","toyota":1.0,"nissui":1.3,"eneos":-1.4,"takeda":1.3,"nsteel":-1.2},
      {"date":"2022-08-26","toyota":-0.6,"nissui":-1.2,"eneos":-0.8,"takeda":-0.3,"nsteel":-0.8},
      {"date":"2022-08-29","toyota":-1.4,"nissui":-0.9,"eneos":0.9,"takeda":-0.3,"nsteel":0.6},
      {"date":"2022-08-30","toyota":-1.3,"nissui":-0.8,"eneos":-1.0,"takeda":-0.9,"nsteel":-1.4},
      {"date":"2022-08-31","toyota":0.6,"nissui":0.3,"eneos":-0.5,"takeda":0.8,"nsteel":-0.7},
      {"date":"2022-09-01","toyota":-0.8,"nissui":-0.6,"eneos":-1.3,"takeda":-0.6,"nsteel":-1.0},
      {"date":"2022-09-02","toyota":-0.5,"nissui":-1.1,"eneos":1.3,"takeda":-1.0,"nsteel":1.2},
      {"date":"2022-09-05","toyota":0.5,"nissui":0.7,"eneos":0.8,"takeda":0.7,"nsteel":0.6},
      {"date":"2022-09-06","toyota":1.2,"nissui":-2.0,"eneos":-1.0,"takeda":0.5,"nsteel":-1.4},
      {"date":"2022-09-07","toyota":-0.4,"nissui":-0.2,"eneos":0.4,"takeda":-0.4,"nsteel":-0.6},
      {"date":"2022-09-08","toyota":-0.8,"nissui":0.9,"eneos":0.2,"takeda":-0.5,"nsteel":0.9},
      {"date":"2022-09-09","toyota":1.0,"nissui":1.1,"eneos":1.1,"takeda":0.8,"nsteel":1.3},
      {"date":"2022-09-12","toyota":0.3,"nissui":-0.3,"eneos":-0.7,"takeda":1.1,"nsteel":2.2},
      {"date":"2022-09-13","toyota":0.6,"nissui":0.4,"eneos":0.6,"takeda":0.3,"nsteel":0.8},
      {"date":"2022-09-14","toyota":-1.2,"nissui":1.2,"eneos":0.8,"takeda":-0.8,"nsteel":2.3},
      {"date":"2022-09-15","toyota":-1.1,"nissui":-1.0,"eneos":-1.2,"takeda":-0.7,"nsteel":-1.3},
      {"date":"2022-09-16","toyota":0.7,"nissui":-0.6,"eneos":-1.1,"takeda":0.2,"nsteel":-1.0},
      {"date":"2022-09-20","toyota":0.2,"nissui":0.5,"eneos":-0.5,"takeda":0.5,"nsteel":0.4},
      {"date":"2022-09-21","toyota":1.9,"nissui":0.5,"eneos":0.5,"takeda":-1.3,"nsteel":0.4},
      {"date":"2022-09-22","toyota":-0.6,"nissui":-0.7,"eneos":-0.9,"takeda":-1.0,"nsteel":-0.8},
      {"date":"2022-09-26","toyota":-0.6,"nissui":-1.4,"eneos":-3.05,"takeda":0.9,"nsteel":-2.95},
      {"date":"2022-09-27","toyota":0.8,"nissui":1.0,"eneos":0.9,"takeda":0.6,"nsteel":1.0},
      {"date":"2022-09-28","toyota":-2.6,"nissui":1.0,"eneos":1.4,"takeda":2.9,"nsteel":-2.1},
      {"date":"2022-09-29","toyota":-1.4,"nissui":-1.2,"eneos":-1.1,"takeda":-1.3,"nsteel":-1.6},
      {"date":"2022-09-30","toyota":3.3,"nissui":-0.8,"eneos":-0.4,"takeda":0.4,"nsteel":1.3},
      {"date":"2022-10-03","toyota":1.4,"nissui":1.3,"eneos":1.2,"takeda":1.1,"nsteel":1.5},
      {"date":"2022-10-04","toyota":-0.4,"nissui":0.6,"eneos":2.5,"takeda":2.25,"nsteel":-0.6},
      {"date":"2022-10-05","toyota":0.3,"nissui":0.2,"eneos":0.7,"takeda":0.4,"nsteel":0.5},
      {"date":"2022-10-06","toyota":0.8,"nissui":-1.0,"eneos":-1.3,"takeda":-0.7,"nsteel":0.8},
      {"date":"2022-10-07","toyota":-0.7,"nissui":-0.5,"eneos":-0.8,"takeda":-0.6,"nsteel":-0.9},
      {"date":"2022-10-11","toyota":-1.0,"nissui":1.4,"eneos":0.7,"takeda":1.0,"nsteel":-1.2},
      {"date":"2022-10-12","toyota":-0.3,"nissui":0.6,"eneos":0.2,"takeda":-0.2,"nsteel":-0.4},
      {"date":"2022-10-13","toyota":0.5,"nissui":-0.5,"eneos":-0.6,"takeda":-0.4,"nsteel":1.0},
      {"date":"2022-10-14","toyota":1.2,"nissui":0.9,"eneos":1.0,"takeda":0.8,"nsteel":1.1},
      {"date":"2022-10-17","toyota":-0.7,"nissui":0.8,"eneos":1.0,"takeda":0.6,"nsteel":-0.5},
      {"date":"2022-10-18","toyota":0.6,"nissui":0.4,"eneos":0.5,"takeda":0.6,"nsteel":0.7},
      {"date":"2022-10-19","toyota":1.1,"nissui":-1.2,"eneos":-1.2,"takeda":-1.1,"nsteel":1.4},
      {"date":"2022-10-20","toyota":-0.8,"nissui":-0.9,"eneos":-0.6,"takeda":-0.4,"nsteel":-1.0},
      {"date":"2022-10-21","toyota":-0.3,"nissui":0.3,"eneos":0.4,"takeda":1.4,"nsteel":-0.9},
      {"date":"2022-10-24","toyota":0.4,"nissui":-0.2,"eneos":0.3,"takeda":0.7,"nsteel":0.3},
      {"date":"2022-10-25","toyota":0.6,"nissui":-0.7,"eneos":-0.9,"takeda":-0.3,"nsteel":0.5},
      {"date":"2022-10-26","toyota":0.9,"nissui":0.8,"eneos":1.1,"takeda":0.3,"nsteel":1.0},
      {"date":"2022-10-27","toyota":-1.3,"nissui":1.1,"eneos":0.9,"takeda":1.8,"nsteel":-1.3},
      {"date":"2022-10-28","toyota":-0.5,"nissui":-0.6,"eneos":-0.7,"takeda":0.5,"nsteel":-0.6},
      {"date":"2022-10-31","toyota":0.2,"nissui":-0.2,"eneos":-0.3,"takeda":1.75,"nsteel":0.9},
      {"date":"2022-11-01","toyota":0.3,"nissui":0.5,"eneos":0.2,"takeda":-0.3,"nsteel":0.4},
      {"date":"2022-11-02","toyota":0.9,"nissui":2.45,"eneos":1.2,"takeda":-0.6,"nsteel":-0.4},
      {"date":"2022-11-04","toyota":0.7,"nissui":0.9,"eneos":0.8,"takeda":0.2,"nsteel":0.9},
      {"date":"2022-11-07","toyota":-0.8,"nissui":-3.25,"eneos":-0.5,"takeda":0.8,"nsteel":1.55},
      {"date":"2022-11-08","toyota":-0.4,"nissui":-0.8,"eneos":-0.5,"takeda":-0.6,"nsteel":-0.3},
      {"date":"2022-11-09","toyota":0.4,"nissui":0.6,"eneos":-1.4,"takeda":-0.9,"nsteel":-1.1},
      {"date":"2022-11-10","toyota":1.3,"nissui":1.2,"eneos":1.1,"takeda":1.0,"nsteel":1.4},
      {"date":"2022-11-11","toyota":-0.5,"nissui":-1.1,"eneos":0.6,"takeda":0.5,"nsteel":0.7},
      {"date":"2022-11-14","toyota":-0.2,"nissui":-0.3,"eneos":-0.4,"takeda":-0.7,"nsteel":-0.5},
      {"date":"2022-11-15","toyota":1.0,"nissui":0.4,"eneos":-1.9,"takeda":-1.8,"nsteel":1.65},
      {"date":"2022-11-16","toyota":0.5,"nissui":0.6,"eneos":0.9,"takeda":0.4,"nsteel":0.7},
      {"date":"2022-11-17","toyota":-1.1,"nissui":-0.6,"eneos":0.8,"takeda":0.3,"nsteel":-0.8},
      {"date":"2022-11-18","toyota":-0.9,"nissui":-0.7,"eneos":-0.8,"takeda":-0.5,"nsteel":-1.1},
      {"date":"2022-11-21","toyota":1.5,"nissui":1.2,"eneos":-1.0,"takeda":-0.5,"nsteel":0.3},
      {"date":"2022-11-22","toyota":0.8,"nissui":0.4,"eneos":0.6,"takeda":0.9,"nsteel":0.9},
      {"date":"2022-11-24","toyota":-0.6,"nissui":-0.3,"eneos":1.1,"takeda":1.2,"nsteel":-3.2},
      {"date":"2022-11-25","toyota":-0.3,"nissui":0.2,"eneos":-0.2,"takeda":-0.3,"nsteel":-0.4},
      {"date":"2022-11-28","toyota":0.7,"nissui":0.9,"eneos":-0.7,"takeda":-1.2,"nsteel":-1.0},
      {"date":"2022-11-29","toyota":-0.8,"nissui":-1.0,"eneos":-1.3,"takeda":-0.9,"nsteel":-1.2},
      {"date":"2022-11-30","toyota":-1.2,"nissui":-0.9,"eneos":0.3,"takeda":0.6,"nsteel":1.1},
      {"date":"2022-12-01","toyota":0.4,"nissui":0.7,"eneos":0.5,"takeda":0.6,"nsteel":0.6},
      {"date":"2022-12-02","toyota":0.3,"nissui":1.3,"eneos":1.3,"takeda":-0.4,"nsteel":-0.6},
      {"date":"2022-12-05","toyota":-0.6,"nissui":-0.4,"eneos":-0.9,"takeda":0.2,"nsteel":-0.7},
      {"date":"2022-12-06","toyota":-0.4,"nissui":-0.5,"eneos":-1.1,"takeda":1.0,"nsteel":1.65},
      {"date":"2022-12-07","toyota":-1.0,"nissui":-0.8,"eneos":-0.6,"takeda":-1.0,"nsteel":-1.1},
      {"date":"2022-12-08","toyota":1.2,"nissui":0.2,"eneos":0.5,"takeda":-0.8,"nsteel":1.6},
      {"date":"2022-12-09","toyota":0.9,"nissui":0.6,"eneos":0.8,"takeda":0.5,"nsteel":1.0},
      {"date":"2022-12-12","toyota":-0.9,"nissui":-1.3,"eneos":-0.4,"takeda":0.4,"nsteel":-1.3},
      {"date":"2022-12-13","toyota":0.6,"nissui":0.9,"eneos":1.0,"takeda":1.2,"nsteel":0.7},
      {"date":"2022-12-14","toyota":0.5,"nissui":1.0,"eneos":1.4,"takeda":-1.0,"nsteel":1.65},
      {"date":"2022-12-15","toyota":-0.9,"nissui":-0.5,"eneos":-1.1,"takeda":-0.6,"nsteel":-1.0},
      {"date":"2022-12-16","toyota":-0.2,"nissui":-0.4,"eneos":-0.8,"takeda":0.9,"nsteel":1.6},
      {"date":"2022-12-19","toyota":-0.5,"nissui":-0.9,"eneos":-0.4,"takeda":-0.8,"nsteel":-0.7},
      {"date":"2022-12-20","toyota":-3.15,"nissui":0.7,"eneos":0.6,"takeda":-0.3,"nsteel":-2.8},
      {"date":"2022-12-21","toyota":0.5,"nissui":0.3,"eneos":0.7,"takeda":0.9,"nsteel":0.6},
      {"date":"2022-12-22","toyota":0.8,"nissui":-1.0,"eneos":-1.2,"takeda":1.3,"nsteel":1.65},
      {"date":"2022-12-23","toyota":0.2,"nissui":-0.6,"eneos":0.4,"takeda":-0.4,"nsteel":0.3},
      {"date":"2022-12-26","toyota":-0.7,"nissui":0.5,"eneos":0.9,"takeda":-0.6,"nsteel":-0.7},
      {"date":"2022-12-27","toyota":-0.4,"nissui":0.5,"eneos":-0.5,"takeda":0.3,"nsteel":-0.5},
      {"date":"2022-12-28","toyota":0.4,"nissui":-0.8,"eneos":-0.6,"takeda":0.7,"nsteel":0.9},
      {"date":"2022-12-30","toyota":-0.7,"nissui":-0.4,"eneos":0.6,"takeda":-0.7,"nsteel":-0.9},
      {"date":"2023-01-04","toyota":-1.0,"nissui":1.1,"eneos":1.0,"takeda":-1.1,"nsteel":-1.95},
      {"date":"2023-01-05","toyota":0.9,"nissui":0.8,"eneos":0.3,"takeda":0.8,"nsteel":1.0},
      {"date":"2023-01-06","toyota":0.6,"nissui":-0.2,"eneos":-0.3,"takeda":0.5,"nsteel":2.5},
      {"date":"2023-01-10","toyota":0.6,"nissui":0.2,"eneos":0.9,"takeda":0.5,"nsteel":0.7},
      {"date":"2023-01-11","toyota":-0.3,"nissui":0.9,"eneos":1.3,"takeda":-0.7,"nsteel":2.75},
      {"date":"2023-01-12","toyota":-0.5,"nissui":-0.7,"eneos":-0.6,"takeda":-0.3,"nsteel":-0.8},
      {"date":"2023-01-13","toyota":2.05,"nissui":-1.2,"eneos":-0.9,"takeda":0.9,"nsteel":-1.85},
      {"date":"2023-01-16","toyota":1.1,"nissui":0.9,"eneos":1.2,"takeda":0.2,"nsteel":1.2},
      {"date":"2023-01-17","toyota":-0.8,"nissui":0.4,"eneos":0.7,"takeda":-0.4,"nsteel":2.6},
      {"date":"2023-01-18","toyota":0.3,"nissui":0.5,"eneos":0.6,"takeda":0.7,"nsteel":0.5},
      {"date":"2023-01-19","toyota":2.6,"nissui":-0.6,"eneos":-0.5,"takeda":1.1,"nsteel":0.6},
      {"date":"2023-01-20","toyota":0.8,"nissui":0.3,"eneos":0.4,"takeda":-0.5,"nsteel":0.9},
      {"date":"2023-01-23","toyota":1.7,"nissui":0.2,"eneos":1.1,"takeda":-0.9,"nsteel":-0.8},
      {"date":"2023-01-24","toyota":-0.6,"nissui":-0.8,"eneos":-0.9,"takeda":-0.9,"nsteel":-0.7},
      {"date":"2023-01-25","toyota":-0.5,"nissui":-0.9,"eneos":-1.0,"takeda":-1.2,"nsteel":-3.2},
      {"date":"2023-01-26","toyota":-0.9,"nissui":-0.3,"eneos":0.2,"takeda":-0.6,"nsteel":-1.0},
      {"date":"2023-01-27","toyota":0.3,"nissui":-0.4,"eneos":0.4,"takeda":-0.8,"nsteel":0.5},
      {"date":"2023-01-28","toyota":-0.8,"nissui":-1.0,"eneos":-1.1,"takeda":-1.2,"nsteel":-1.2},
      {"date":"2023-01-30","toyota":-1.1,"nissui":-1.2,"eneos":-0.7,"takeda":-1.0,"nsteel":-1.0},
      {"date":"2023-01-31","toyota":-1.2,"nissui":-0.9,"eneos":-0.6,"takeda":-1.1,"nsteel":-1.3},
      {"date":"2023-02-01","toyota":-1.4,"nissui":-0.5,"eneos":1.15,"takeda":-0.9,"nsteel":-0.6},
      {"date":"2023-02-02","toyota":-0.3,"nissui":0.2,"eneos":0.4,"takeda":0.5,"nsteel":-0.2},
      {"date":"2023-02-03","toyota":-1.2,"nissui":0.4,"eneos":1.05,"takeda":1.3,"nsteel":0.4}
    ]
  },
  "encoding": {
    "x": {
      "field": "date",
      "type": "ordinal",
      "title": "Date",
      "scale": {"type": "point", "padding": 0, "range": [48, 997]},
      "axis": {
        "values": ["2021-02-17", "2021-04-01", "2021-05-19", "2021-06-30", "2021-08-16", "2021-09-29", "2021-11-11", "2021-12-24", "2022-02-09", "2022-03-28", "2022-05-13", "2022-06-24", "2022-08-08", "2022-09-21", "2022-11-07", "2022-12-20", "2023-02-03"],
        "labelAngle": -90,
        "labelOverlap": false,
        "labelFontSize": 18,
        "labelPadding": 6,
        "titleFont": "DejaVu Sans",
        "titleFontSize": 16,
        "titlePadding": 8
      }
    }
  },
  "layer": [
    {
      "mark": {"type": "point", "filled": true, "size": 110, "opacity": 1},
      "encoding": {
        "y": {"field": "toyota", "type": "quantitative", "title": "前日比[%]",
              "scale": {"domain": [-6.37, 9.14], "nice": false, "zero": false},
              "axis": {"values": [-6, -4, -2, 0, 2, 4, 6, 8], "titlePadding": 12}},
        "color": {
          "datum": "トヨタ自動車",
          "scale": {"domain": ["トヨタ自動車", "ニッスイ", "ENEOS", "武田薬品工業", "日本製鐵"],
                    "range": ["#1f77b4", "#ff7f0e", "#2ca02c", "#d62728", "#bfbfbf"]},
          "legend": {
            "title": null,
            "orient": "none",
            "legendX": 856,
            "legendY": 10,
            "padding": 8,
            "symbolOffset": 15,
            "symbolSize": 100,
            "symbolOpacity": 1,
            "labelFont": "Noto Sans CJK JP",
            "labelFontSize": 17,
            "labelColor": "#222",
            "labelOffset": 22,
            "rowPadding": 9,
            "fillColor": "rgba(255,255,255,0.8)",
            "strokeColor": "#cccccc",
            "cornerRadius": 4
          }
        },
        "shape": {
          "datum": "トヨタ自動車",
          "scale": {"domain": ["トヨタ自動車", "ニッスイ", "ENEOS", "武田薬品工業", "日本製鐵"],
                    "range": ["circle",
                              "M0,-0.3L0.7,-1L1,-0.7L0.3,0L1,0.7L0.7,1L0,0.3L-0.7,1L-1,0.7L-0.3,0L-1,-0.7L-0.7,-1Z",
                              "triangle-up",
                              "M0,-1L0.225,-0.309L0.951,-0.309L0.363,0.118L0.588,0.809L0,0.382L-0.588,0.809L-0.363,0.118L-0.951,-0.309L-0.225,-0.309Z",
                              "square"]},
          "legend": {"title": null}
        }
      }
    },
    {
      "mark": {"type": "point", "filled": true, "size": 120, "opacity": 1},
      "encoding": {
        "y": {"field": "nissui", "type": "quantitative", "title": "前日比[%]"},
        "color": {"datum": "ニッスイ"},
        "shape": {"datum": "ニッスイ"}
      }
    },
    {
      "mark": {"type": "point", "filled": true, "size": 115, "opacity": 1},
      "encoding": {
        "y": {"field": "eneos", "type": "quantitative", "title": "前日比[%]"},
        "color": {"datum": "ENEOS"},
        "shape": {"datum": "ENEOS"}
      }
    },
    {
      "mark": {"type": "point", "filled": true, "size": 135, "opacity": 1},
      "encoding": {
        "y": {"field": "takeda", "type": "quantitative", "title": "前日比[%]"},
        "color": {"datum": "武田薬品工業"},
        "shape": {"datum": "武田薬品工業"}
      }
    },
    {
      "mark": {"type": "point", "filled": true, "size": 110, "opacity": 0.5, "color": "#7f7f7f"},
      "encoding": {
        "y": {"field": "nsteel", "type": "quantitative", "title": "前日比[%]"},
        "shape": {"datum": "日本製鐵"}
      }
    },
    {
      "data": {"values": [{}]},
      "mark": {"type": "rule", "color": "#000", "strokeWidth": 2.5},
      "encoding": {
        "x": {"datum": "2021-02-08", "type": "ordinal"},
        "x2": {"datum": "2023-02-03"},
        "y": {"datum": 0, "type": "quantitative"}
      }
    }
  ]
}
